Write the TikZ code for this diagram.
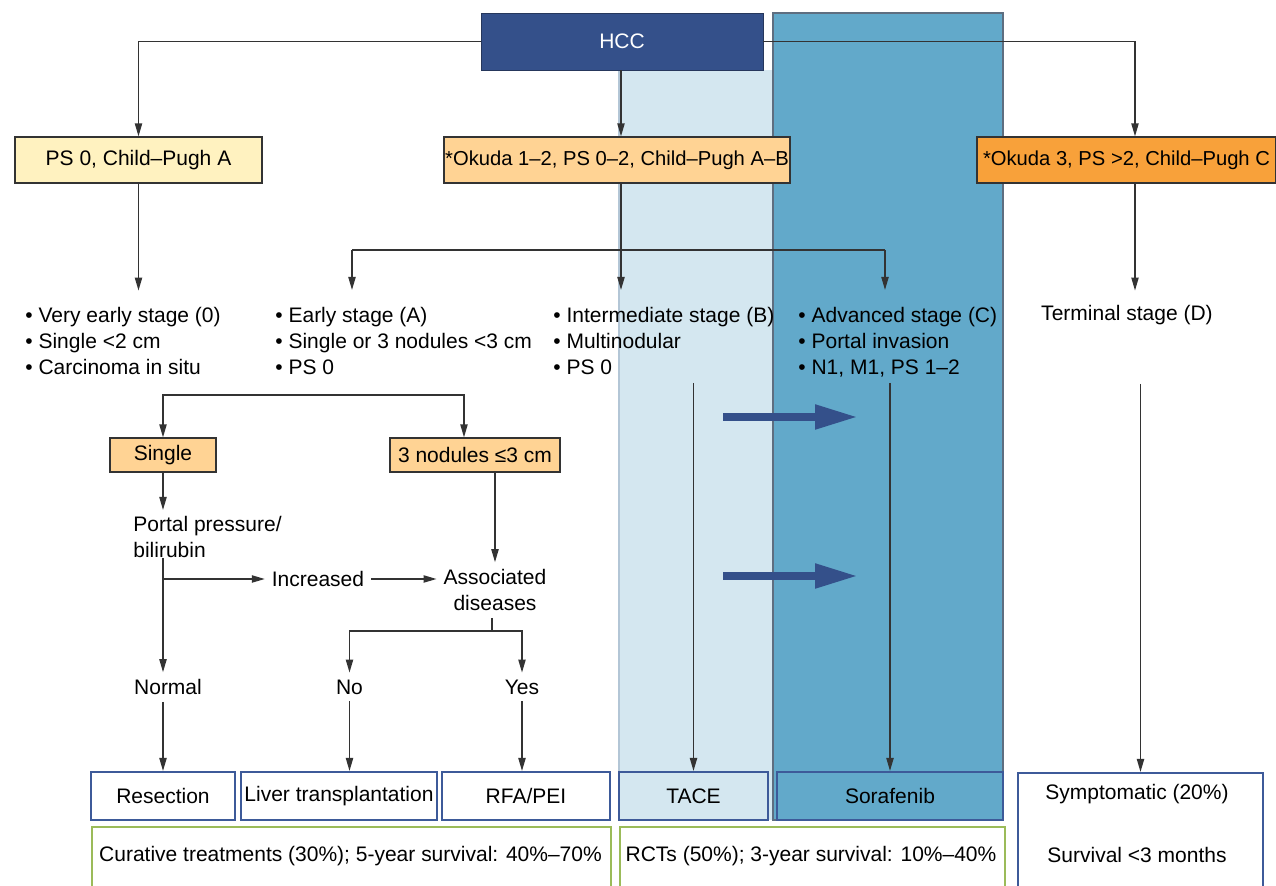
\documentclass[tikz,border=0pt]{standalone}
\usepackage{fontspec}
\setmainfont{Liberation Sans}
\usetikzlibrary{arrows.meta}

\definecolor{hccblue}{HTML}{34508A}
\definecolor{hccrim}{HTML}{26375C}
\definecolor{tacebg}{HTML}{D4E7F0}
\definecolor{tacerim}{HTML}{B3C6D6}
\definecolor{sorabg}{HTML}{62A9CA}
\definecolor{bandrim}{HTML}{5E6E80}
\definecolor{paleyellow}{HTML}{FFF2C0}
\definecolor{paleorange}{HTML}{FFD394}
\definecolor{deeporange}{HTML}{F8A13A}
\definecolor{boxblue}{HTML}{3D5A99}
\definecolor{boxgreen}{HTML}{9BBB59}
\definecolor{linegray}{HTML}{333333}

\tikzset{
  crit/.style={draw=linegray, line width=0.6pt, minimum height=23pt, inner sep=0pt},
  okuda/.style={crit, font=\fontsize{10.1}{13}\selectfont},
  treat/.style={draw=boxblue, line width=1pt, minimum height=24pt, inner sep=0pt},
  surv/.style={draw=boxgreen, line width=1pt, inner sep=0pt, anchor=north west, minimum height=40pt},
  stage/.style={align=left, anchor=north west, inner sep=0pt},
  line/.style={draw=linegray, line width=0.75pt},
  conn/.style={line, -{Triangle[length=6.5pt,width=3.6pt]}},
  fatarrow/.style={draw=hccblue, line width=4pt, -{Triangle[length=21.5pt,width=11.5pt]}}
}

\begin{document}
\begin{tikzpicture}[x=0.5pt, y=-0.5pt, font=\fontsize{10.5}{13}\selectfont]
\useasboundingbox (0,0) rectangle (1276,886);
\clip (0,0) rectangle (1276,886);

% treatment bands
\fill[tacebg] (619,70) rectangle (773,820);
\draw[tacerim, line width=0.6pt] (619,70) -- (619,820);
\filldraw[fill=sorabg, draw=bandrim, line width=1.2pt] (773,13) rectangle (1003,820);

\node[fill=hccblue, draw=hccrim, text=white, minimum width=141pt, minimum height=28.5pt, inner sep=0pt] (hcc) at (622,41.5) {HCC};

\node[crit, fill=paleyellow, minimum width=123.5pt] (ps0) at (138.5,160) {PS 0, Child–Pugh A};
\node[okuda, fill=paleorange, minimum width=173pt] (okuda1) at (617,160) {*Okuda 1–2, PS 0–2, Child–Pugh A–B};
\node[okuda, fill=deeporange, minimum width=149.5pt] (okuda3) at (1126.5,160) {*Okuda 3, PS >2, Child–Pugh C};

\node[stage] (verye) at (25,306.7) {• Very early stage (0)\\• Single <2 cm\\• Carcinoma in situ};
\node[stage] (early) at (275,306.7) {• Early stage (A)\\• Single or 3 nodules <3 cm\\• PS 0};
\node[stage] (interm) at (553,306.7) {• Intermediate stage (B)\\• Multinodular\\• PS 0};
\node[stage] (advan) at (798,306.7) {• Advanced stage (C)\\• Portal invasion\\• N1, M1, PS 1–2};
\node (termin) at (1127,315) {Terminal stage (D)};

\coordinate (spine) at (621,250);
\coordinate (fork0) at (352,250);
\coordinate (fork1) at (885,250);
\draw[conn] (hcc.west) -| (ps0.north);
\draw[conn] (hcc.east) -| ([xshift=4.25pt]okuda3.north);
\draw[conn] (hcc.south -| spine) -- (okuda1.north -| spine);
\draw[line] (okuda1.south -| spine) -- (spine);
\draw[line] (fork0) -- (fork1);
\draw[conn] (spine) -- ++(0,40);
\draw[conn] (fork0) -- ++(0,40);
\draw[conn] (fork1) -- ++(0,40);
\draw[conn] (ps0.south) -- ++(0,107);
\draw[conn] ([xshift=4.25pt]okuda3.south) -- ++(0,107);

% early stage tree
\node[crit, fill=paleorange, minimum width=53pt, minimum height=17pt] (single) at (163,455) {Single};
\node[crit, fill=paleorange, minimum width=85pt, minimum height=17pt] (three) at (475,455) {3 nodules ≤3 cm};
\node[stage] (portal) at (133,516) {Portal pressure/\\bilirubin};
\node (incr) at (318,579) {Increased};
\node[align=center] (assoc) at (495,590) {Associated\\diseases};
\node (normal) at (168,687) {Normal};
\node (no) at (349.5,687) {No};
\node (yes) at (522,687) {Yes};

\coordinate (fork2) at (314,395);
\coordinate (fork3) at (492,631);
\draw[conn] (fork2) -| (single.north);
\draw[conn] (fork2) -| ([xshift=-5.5pt]three.north);
\draw[conn, shorten >=3pt] (single.south) -- (single.south |- portal.north);
\draw[conn] (single.south |- portal.south) -- (single.south |- normal.north);
\draw[conn] (single.south |- incr.west) -- (incr.west);
\draw[conn] (incr.east) -- (assoc.west |- incr.east);
\draw[conn] (three.south -| assoc.north) -- (assoc.north);
\draw[line] (assoc.south -| fork3) -- (fork3);
\draw[conn] (fork3) -| (no.north);
\draw[conn] (fork3) -| (yes.north);

% treatments
\node[treat, minimum width=72pt] (resect) at (163,796) {Resection};
\node[treat, minimum width=98pt] (liver) at (339,796) {Liver transplantation};
\node[treat, minimum width=84pt] (rfa) at (526,796) {RFA/PEI};
\node[treat, fill=tacebg, minimum width=74.5pt] (tace) at (693.5,796) {TACE};
\node[treat, fill=sorabg, minimum width=113pt] (sora) at (890,796) {Sorafenib};
\node[treat, anchor=north west, minimum width=122.5pt, minimum height=70pt] (sympt) at (1017,772) {};
\node (symtxt) at (1137,794) {Symptomatic (20\%)};
\node (survtxt) at (1137,855) {Survival <3 months};

\draw[conn] (normal.south -| resect.north) -- (resect.north);
\draw[conn] (no.south) -- (no.south |- liver.north);
\draw[conn] (yes.south) -- (yes.south |- rfa.north);
\draw[conn] ([yshift=194pt]tace.north) -- (tace.north);
\draw[conn] ([yshift=194pt]sora.north) -- (sora.north);
\draw[conn] ([yshift=194pt]sympt.north) -- (sympt.north);

\draw[fatarrow] (723,417) -- (858,417);
\draw[fatarrow] (723,576) -- (858,576);

% survival
\node[surv, minimum width=259.5pt] (curbox) at (91,826) {};
\node (curtxt) at (350.5,856) {Curative treatments (30\%); 5-year survival: 40\%–70\%};
\node[surv, minimum width=192.5pt] (rctbox) at (619,826) {};
\node (rcttxt) at (811,856) {RCTs (50\%); 3-year survival: 10\%–40\%};
\end{tikzpicture}
\end{document}
